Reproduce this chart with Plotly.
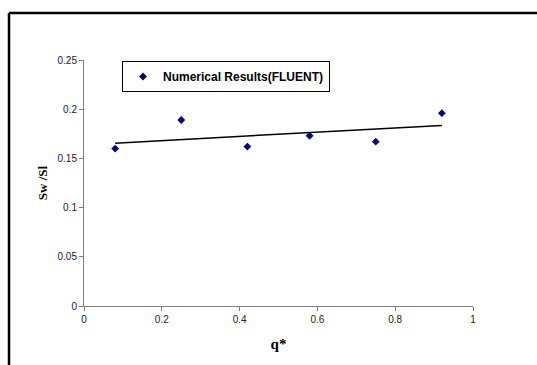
import numpy as np
import plotly.graph_objects as go

q_star = [0.08, 0.25, 0.42, 0.58, 0.75, 0.92]
sw_sl = [0.160, 0.189, 0.162, 0.173, 0.167, 0.196]
x_ticks = [0, 0.2, 0.4, 0.6, 0.8, 1]
x_tick_text = ["0", "0.2", "0.4", "0.6", "0.8", "1"]
y_ticks = [0, 0.05, 0.1, 0.15, 0.2, 0.25]
y_tick_text = ["0", "0.05", "0.1", "0.15", "0.2", "0.25"]

# linear trend line fitted to the data
slope, intercept = np.polyfit(q_star, sw_sl, 1)
trend_x = [min(q_star), max(q_star)]
trend_y = [slope * v + intercept for v in trend_x]

fig = go.Figure()
fig.add_trace(go.Scatter(
    x=q_star, y=sw_sl, mode="markers", name="<b>Numerical Results(FLUENT)</b>",
    marker=dict(symbol="diamond", size=6, color="#000080"),
))
fig.add_trace(go.Scatter(
    x=trend_x, y=trend_y, mode="lines", showlegend=False,
    line=dict(color="black", width=1.5),
))

axis_common = dict(
    showgrid=False, zeroline=False, showline=True, linecolor="#808080", linewidth=1,
    ticks="outside", ticklen=4, tickcolor="#808080", tickwidth=1,
    tickfont=dict(family="Liberation Sans, Arial", size=10, color="#222"),
    tickmode="array",
)
fig.update_xaxes(range=[0, 1], tickvals=x_ticks, ticktext=x_tick_text,
                 title=dict(text="<b>q*</b>", font=dict(family="Liberation Serif, Times New Roman", size=15, color="black"), standoff=14),
                 **axis_common)
fig.update_yaxes(range=[0, 0.25], tickvals=y_ticks, ticktext=y_tick_text,
                 title=dict(text="<b>Sw /Sl</b>", font=dict(family="Liberation Serif, Times New Roman", size=13, color="black"), standoff=6),
                 **axis_common)

# outer frame (left and top edges visible; right/bottom run off the picture)
left_x = (9 - 84) / 389
top_y = (306 - 13) / 246
right_x = (545 - 84) / 389
bottom_y = (306 - 372) / 246
fig.add_shape(type="line", xref="paper", yref="paper",
              x0=left_x, x1=left_x, y0=bottom_y, y1=top_y,
              line=dict(color="black", width=2.5))
fig.add_shape(type="line", xref="paper", yref="paper",
              x0=left_x, x1=right_x, y0=top_y, y1=top_y,
              line=dict(color="black", width=2.5))

fig.update_layout(
    width=537, height=365,
    margin=dict(l=84, r=64, t=60, b=59),
    paper_bgcolor="white", plot_bgcolor="white",
    showlegend=True,
    legend=dict(
        x=(122 - 84) / 389, y=(306 - 61) / 246, xanchor="left", yanchor="top",
        bordercolor="black", borderwidth=1, bgcolor="white",
        font=dict(family="Liberation Sans, Arial", size=12, color="black"),
        itemwidth=30, tracegroupgap=0,
    ),
)

fig.write_html("out.html", config={"displayModeBar": False})
